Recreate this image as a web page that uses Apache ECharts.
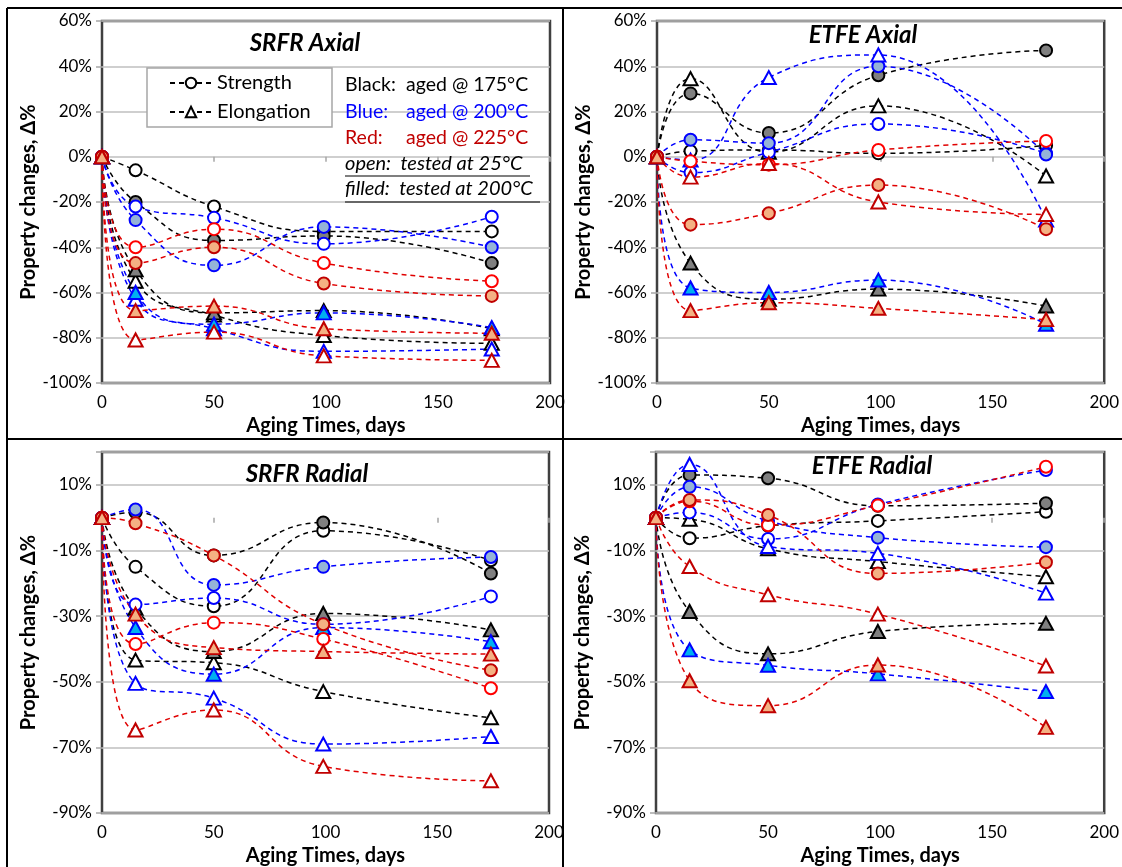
<!DOCTYPE html>
<html><head><meta charset="utf-8">
<script src="https://cdn.jsdelivr.net/npm/echarts@6/dist/echarts.min.js"></script>
<style>html,body{margin:0;padding:0;background:#fff;} #c{width:1122px;height:867px;}</style>
</head><body><div id="c"></div>
<script>
// ---------- DATA ----------
const days = [0, 15, 50, 99, 174];
const xTicks = [0, 50, 100, 150, 200];
const axialTicks = [-100, -80, -60, -40, -20, 0, 20, 40, 60];
const radialTicks = [-90, -70, -50, -30, -10, 10];
const panelTitles = ['SRFR Axial', 'ETFE Axial', 'SRFR Radial', 'ETFE Radial'];
const legendNames = ['Strength', 'Elongation'];
const noteLines = ['Black:', 'aged @ 175°C', 'Blue:', 'aged @ 200°C', 'Red:', 'aged @ 225°C', 'open:  tested at 25°C', 'filled:  tested at 200°C'];

// SRFR Axial
const srfrAxial_175_strength_open   = [0, -6, -22, -33, -33];
const srfrAxial_175_strength_filled = [0, -20, -37, -35, -47];
const srfrAxial_200_strength_open   = [0, -22, -27, -38.5, -26.5];
const srfrAxial_200_strength_filled = [0, -28, -48, -31, -40];
const srfrAxial_225_strength_open   = [0, -40, -32, -47, -55];
const srfrAxial_225_strength_filled = [0, -47, -40, -56, -61.5];
const srfrAxial_175_elong_open      = [0, -55, -70, -79, -82.5];
const srfrAxial_175_elong_filled    = [0, -50, -69, -68, -76];
const srfrAxial_200_elong_open      = [0, -63, -76, -86, -85];
const srfrAxial_200_elong_filled    = [0, -60, -74, -69, -75.5];
const srfrAxial_225_elong_open      = [0, -81, -77.5, -88, -90];
const srfrAxial_225_elong_filled    = [0, -68, -66, -76, -78];

// ETFE Axial
const etfeAxial_175_strength_open   = [0, 2.5, 3, 1.5, 5];
const etfeAxial_175_strength_filled = [0, 28, 10.5, 36, 47];
const etfeAxial_200_strength_open   = [0, -7, 2, 14.5, 1.5];
const etfeAxial_200_strength_filled = [0, 7.5, 6, 40, 1];
const etfeAxial_225_strength_open   = [0, -2, -3.5, 3, 7];
const etfeAxial_225_strength_filled = [0, -30, -25, -12.5, -32];
const etfeAxial_175_elong_open      = [0, 34.5, 2, 22.5, -8.5];
const etfeAxial_175_elong_filled    = [0, -47, -63, -58.5, -66];
const etfeAxial_200_elong_open      = [0, -1.5, 35, 45, -28];
const etfeAxial_200_elong_filled    = [0, -58, -60, -54.5, -74];
const etfeAxial_225_elong_open      = [0, -9, -3, -20, -25.5];
const etfeAxial_225_elong_filled    = [0, -68, -64.5, -67, -72];

// SRFR Radial
const srfrRadial_175_strength_open   = [0, -15, -27, -4, -13];
const srfrRadial_175_strength_filled = [0, 1.6, -11.5, -1.5, -17];
const srfrRadial_200_strength_open   = [0, -26.5, -24.5, -32.5, -24];
const srfrRadial_200_strength_filled = [0, 2.5, -20.5, -15, -12];
const srfrRadial_225_strength_open   = [0, -38.5, -32, -37, -52];
const srfrRadial_225_strength_filled = [0, -1.7, -11.5, -32.5, -46.5];
const srfrRadial_175_elong_open      = [0, -43.4, -44.2, -53, -61];
const srfrRadial_175_elong_filled    = [0, -27.6, -40.8, -29.2, -34.2];
const srfrRadial_200_elong_open      = [0, -50.5, -55, -69, -66.7];
const srfrRadial_200_elong_filled    = [0, -33.5, -47.7, -33.5, -37.8];
const srfrRadial_225_elong_open      = [0, -64.7, -58.6, -75.8, -80.2];
const srfrRadial_225_elong_filled    = [0, -29.4, -39.6, -40.8, -41.6];

// ETFE Radial
const etfeRadial_175_strength_open   = [0, -6.3, -2.5, -1, 1.8];
const etfeRadial_175_strength_filled = [0, 13, 12, 3.6, 4.4];
const etfeRadial_200_strength_open   = [0, 1.6, -6.5, 4, 14.5];
const etfeRadial_200_strength_filled = [0, 9.4, -1, -6.1, -9];
const etfeRadial_225_strength_open   = [0, 5, -2.3, 3.7, 15.5];
const etfeRadial_225_strength_filled = [0, 5.4, 0.8, -17, -13.6];
const etfeRadial_175_elong_open      = [0, -0.5, -9.5, -13.4, -18];
const etfeRadial_175_elong_filled    = [0, -28.6, -41.5, -34.7, -32.2];
const etfeRadial_200_elong_open      = [0, 16.2, -8.8, -10.9, -23];
const etfeRadial_200_elong_filled    = [0, -40.3, -45, -47.6, -53];
const etfeRadial_225_elong_open      = [0, -14.9, -23.5, -29.4, -45.2];
const etfeRadial_225_elong_filled    = [0, -49.7, -57.3, -44.9, -63.9];

// ---------- STYLES ----------
const FONT = 'Lato, "Open Sans", sans-serif';
const lineColor = { '175': '#000000', '200': '#0000ff', '225': '#e00000' };
const markStyle = {
  '175': { circle: { open: ['#ffffff', '#000000'], filled: ['#808080', '#000000'] },
           triangle: { open: ['#ffffff', '#000000'], filled: ['#808080', '#000000'] } },
  '200': { circle: { open: ['#ffffff', '#0000ff'], filled: ['#95b3d7', '#0000ff'] },
           triangle: { open: ['#ffffff', '#0000ff'], filled: ['#00b0f0', '#0000ff'] } },
  '225': { circle: { open: ['#ffffff', '#ff0000'], filled: ['#f4b183', '#c00000'] },
           triangle: { open: ['#ffffff', '#c00000'], filled: ['#f4b183', '#c00000'] } }
};

const panels = [
  [[srfrAxial_175_strength_open,'175','circle','open'],[srfrAxial_175_strength_filled,'175','circle','filled'],
   [srfrAxial_175_elong_open,'175','triangle','open'],[srfrAxial_175_elong_filled,'175','triangle','filled'],
   [srfrAxial_200_strength_open,'200','circle','open'],[srfrAxial_200_strength_filled,'200','circle','filled'],
   [srfrAxial_200_elong_open,'200','triangle','open'],[srfrAxial_200_elong_filled,'200','triangle','filled'],
   [srfrAxial_225_strength_open,'225','circle','open'],[srfrAxial_225_strength_filled,'225','circle','filled'],
   [srfrAxial_225_elong_open,'225','triangle','open'],[srfrAxial_225_elong_filled,'225','triangle','filled']],
  [[etfeAxial_175_strength_open,'175','circle','open'],[etfeAxial_175_strength_filled,'175','circle','filled'],
   [etfeAxial_175_elong_open,'175','triangle','open'],[etfeAxial_175_elong_filled,'175','triangle','filled'],
   [etfeAxial_200_strength_open,'200','circle','open'],[etfeAxial_200_strength_filled,'200','circle','filled'],
   [etfeAxial_200_elong_open,'200','triangle','open'],[etfeAxial_200_elong_filled,'200','triangle','filled'],
   [etfeAxial_225_strength_open,'225','circle','open'],[etfeAxial_225_strength_filled,'225','circle','filled'],
   [etfeAxial_225_elong_open,'225','triangle','open'],[etfeAxial_225_elong_filled,'225','triangle','filled']],
  [[srfrRadial_175_strength_open,'175','circle','open'],[srfrRadial_175_strength_filled,'175','circle','filled'],
   [srfrRadial_175_elong_open,'175','triangle','open'],[srfrRadial_175_elong_filled,'175','triangle','filled'],
   [srfrRadial_200_strength_open,'200','circle','open'],[srfrRadial_200_strength_filled,'200','circle','filled'],
   [srfrRadial_200_elong_open,'200','triangle','open'],[srfrRadial_200_elong_filled,'200','triangle','filled'],
   [srfrRadial_225_strength_open,'225','circle','open'],[srfrRadial_225_strength_filled,'225','circle','filled'],
   [srfrRadial_225_elong_open,'225','triangle','open'],[srfrRadial_225_elong_filled,'225','triangle','filled']],
  [[etfeRadial_175_strength_open,'175','circle','open'],[etfeRadial_175_strength_filled,'175','circle','filled'],
   [etfeRadial_175_elong_open,'175','triangle','open'],[etfeRadial_175_elong_filled,'175','triangle','filled'],
   [etfeRadial_200_strength_open,'200','circle','open'],[etfeRadial_200_strength_filled,'200','circle','filled'],
   [etfeRadial_200_elong_open,'200','triangle','open'],[etfeRadial_200_elong_filled,'200','triangle','filled'],
   [etfeRadial_225_strength_open,'225','circle','open'],[etfeRadial_225_strength_filled,'225','circle','filled'],
   [etfeRadial_225_elong_open,'225','triangle','open'],[etfeRadial_225_elong_filled,'225','triangle','filled']]
];

// ---------- LAYOUT ----------
const gridRects = [
  { left: 102, top: 21, width: 448, height: 362 },
  { left: 657, top: 21, width: 448, height: 362 },
  { left: 102, top: 452, width: 447, height: 362 },
  { left: 656, top: 452, width: 449, height: 362 }
];
const titlePos = [[305, 43], [863, 35], [307, 474], [872, 466]];

const grids = gridRects.map(r => Object.assign({ show: true, borderColor: '#404040', borderWidth: 2.5, backgroundColor: '#fff', containLabel: false }, r));

const xAxes = gridRects.map((r, i) => ({
  type: 'value', gridIndex: i, min: xTicks[0], max: xTicks[xTicks.length - 1], interval: xTicks[1] - xTicks[0],
  name: 'Aging Times, days', nameLocation: 'middle', nameGap: 33,
  nameTextStyle: { fontFamily: FONT, fontWeight: 'bold', fontSize: 20, color: '#000' },
  axisLine: { show: false }, axisTick: { show: true, length: 5, lineStyle: { color: '#a6a6a6', width: 1.5 } },
  axisLabel: { fontFamily: FONT, fontSize: 17, color: '#000', margin: 11 },
  splitLine: { show: false }
}));

const yAxes = gridRects.map((r, i) => {
  const ticks = i < 2 ? axialTicks : radialTicks;
  const step = ticks[1] - ticks[0];
  const mx = i < 2 ? ticks[ticks.length - 1] : ticks[ticks.length - 1] + step / 2;
  return {
    type: 'value', gridIndex: i, min: ticks[0], max: mx, interval: step,
    name: 'Property changes, Δ%', nameLocation: 'middle', nameGap: 63,
    nameTextStyle: { fontFamily: FONT, fontWeight: 'bold', fontSize: 20, color: '#000' },
    axisLine: { show: false }, axisTick: { show: true, length: 6, lineStyle: { color: '#a6a6a6', width: 1.5 } },
    axisLabel: { fontFamily: FONT, fontSize: 17, color: '#000', margin: 10,
      formatter: v => (v > ticks[ticks.length - 1] ? '' : v + '%') },
    splitLine: { show: true, lineStyle: { color: '#bfbfbf', width: 1.5 } }
  };
});

const lineSeries = [], markSeries = [];
panels.forEach((sets, p) => {
  sets.forEach(([vals, temp, shape, fill]) => {
    const pts = days.map((d, k) => [d, vals[k]]);
    const [fc, bc] = markStyle[temp][shape][fill];
    lineSeries.push({
      type: 'line', xAxisIndex: p, yAxisIndex: p, data: pts, smooth: 0.5, symbol: 'none',
      lineStyle: { color: lineColor[temp], width: 1.5, type: [5, 4] }, z: 2, silent: true
    });
    markSeries.push({
      type: 'scatter', xAxisIndex: p, yAxisIndex: p, data: pts,
      symbol: shape, symbolSize: shape === 'circle' ? 12 : [14, 13],
      itemStyle: { color: fc, borderColor: bc, borderWidth: 2, opacity: 1 }, z: 3, silent: true
    });
  });
});

// legend helper series (no data)
const legendSeries = legendNames.map((n, i) => ({
  name: n, type: 'line', xAxisIndex: 0, yAxisIndex: 0, data: [],
  symbol: i === 0 ? 'circle' : 'triangle', symbolSize: 11,
  itemStyle: { color: '#fff', borderColor: '#000', borderWidth: 2 },
  lineStyle: { color: '#000', width: 1.5, type: [5, 4] }
}));

// ---------- GRAPHICS ----------
const graphics = [];
panelTitles.forEach((t, i) => graphics.push({
  type: 'text', x: titlePos[i][0], y: titlePos[i][1], z: 20,
  style: { text: t, font: 'italic bold 24px ' + FONT, fill: '#000', textAlign: 'center', textVerticalAlign: 'middle', align: 'center', verticalAlign: 'middle' }
}));
graphics.push({ type: 'rect', shape: { x: 147, y: 68, width: 185, height: 59 }, z: 8,
  style: { fill: '#fff', stroke: '#a6a6a6', lineWidth: 1.5 } });
const noteColors = ['#000', '#000', '#0000ff', '#0000ff', '#c00000', '#c00000'];
const noteY = [85, 112, 138];
for (let k = 0; k < 3; k++) {
  graphics.push({ type: 'text', x: 345, y: noteY[k], z: 20,
    style: { text: noteLines[2 * k], font: '19.5px ' + FONT, fill: noteColors[2 * k], textVerticalAlign: 'middle', verticalAlign: 'middle' } });
  graphics.push({ type: 'text', x: 406, y: noteY[k], z: 20,
    style: { text: noteLines[2 * k + 1], font: '19.5px ' + FONT, fill: noteColors[2 * k + 1], textVerticalAlign: 'middle', verticalAlign: 'middle' } });
}
[[noteLines[6], 164, 176, 530], [noteLines[7], 189, 202, 540]].forEach(([t, y, uy, ux]) => {
  graphics.push({ type: 'text', x: 345, y: y, z: 20,
    style: { text: t, font: 'italic 20px ' + FONT, fill: '#000', textVerticalAlign: 'middle', verticalAlign: 'middle' } });
  graphics.push({ type: 'line', z: 20, shape: { x1: 345, y1: uy, x2: ux, y2: uy }, style: { stroke: '#000', lineWidth: 1.2 } });
});
// outer frame and panel dividers
[[7, 8, 1122, 8], [7, 8, 7, 867], [563, 8, 563, 867], [7, 439, 1122, 439]].forEach(s => graphics.push({
  type: 'line', z: 30, shape: { x1: s[0], y1: s[1], x2: s[2], y2: s[3] }, style: { stroke: '#000', lineWidth: 2 }
}));

const chart = echarts.init(document.getElementById('c'));
chart.setOption({
  animation: false,
  backgroundColor: '#fff',
  grid: grids, xAxis: xAxes, yAxis: yAxes,
  legend: { data: legendNames, left: 167, top: 71, orient: 'vertical', itemWidth: 42, itemHeight: 13, itemGap: 9,
    padding: 2, z: 10, selectedMode: false,
    textStyle: { fontFamily: FONT, fontSize: 20, color: '#000' } },
  series: lineSeries.concat(markSeries, legendSeries),
  graphic: graphics
});
</script></body></html>
